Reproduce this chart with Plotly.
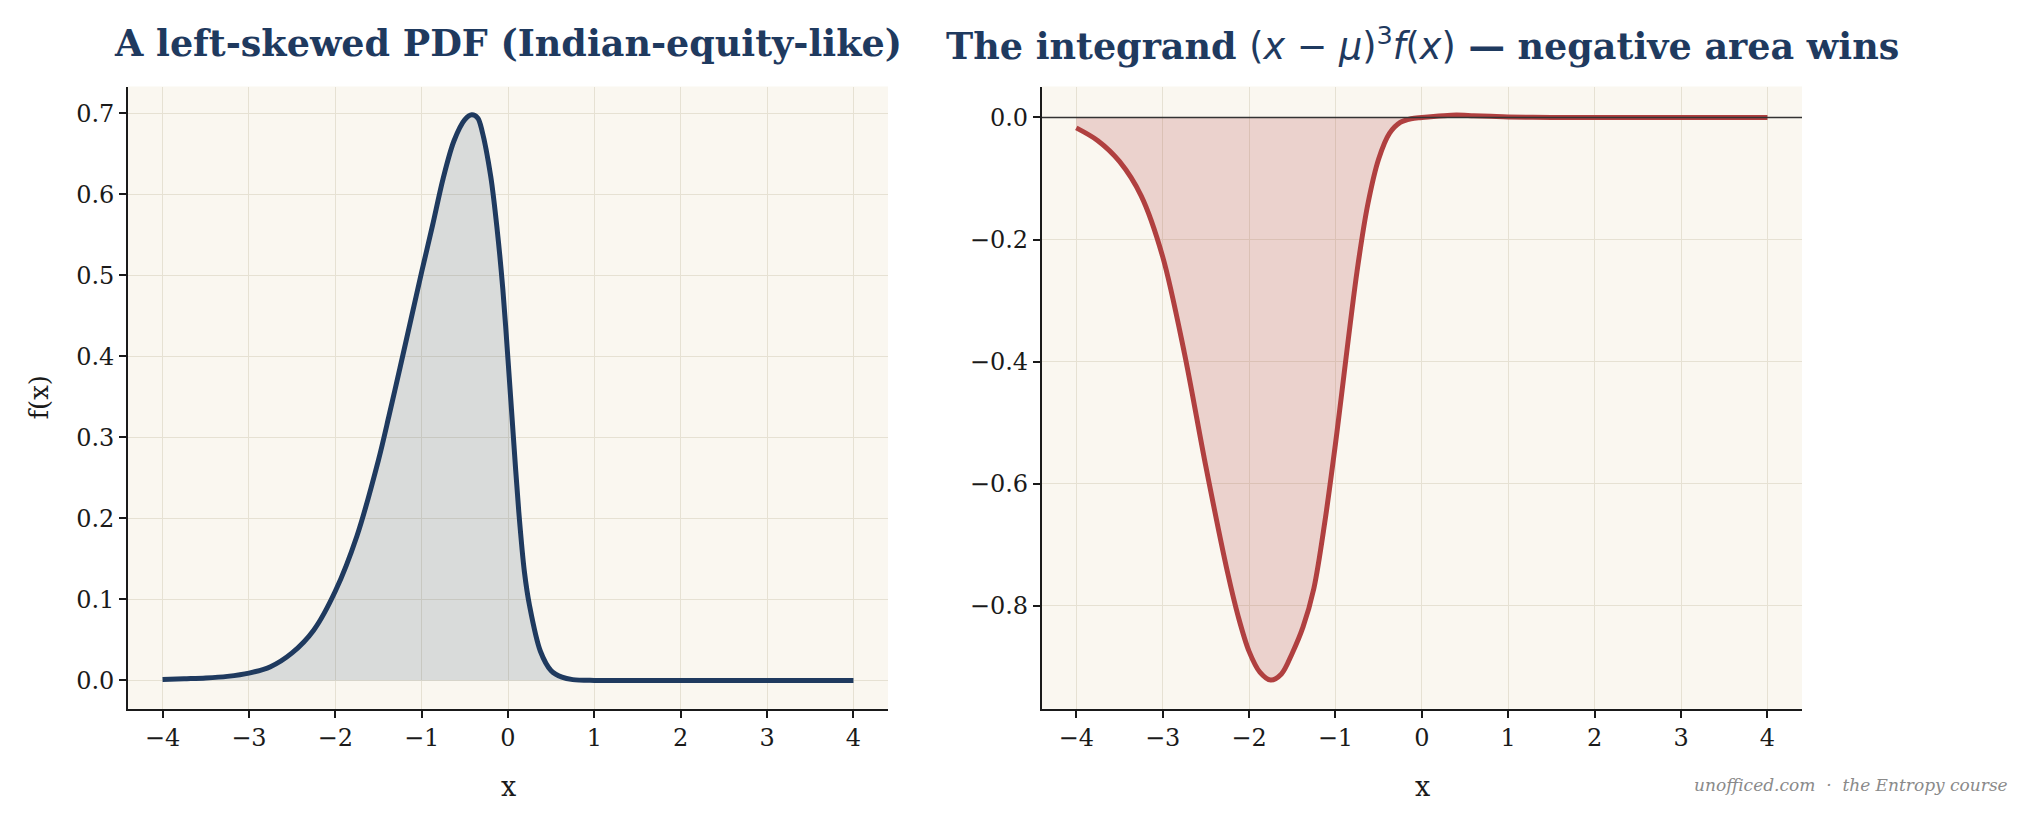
import plotly.graph_objects as go

# ---- data ----
x_pdf = [-4.0, -3.75, -3.5, -3.25, -3.0, -2.75, -2.5, -2.25, -2.0, -1.75, -1.5, -1.375,
         -1.25, -1.125, -1.0, -0.875, -0.75, -0.625, -0.5, -0.42, -0.35, -0.3, -0.2, -0.125,
         -0.06, 0.0, 0.06, 0.125, 0.19, 0.25, 0.375, 0.5, 0.625, 0.75, 1.0, 1.5, 2.0, 2.5,
         3.0, 3.5, 4.0]
f_pdf = [0.001, 0.002, 0.003, 0.005, 0.009, 0.017, 0.034, 0.062, 0.110, 0.178, 0.272, 0.328,
         0.386, 0.445, 0.504, 0.561, 0.620, 0.666, 0.692, 0.698, 0.694, 0.678, 0.622, 0.556,
         0.483, 0.396, 0.304, 0.208, 0.134, 0.092, 0.036, 0.012, 0.004, 0.001, 0.0, 0.0, 0.0,
         0.0, 0.0, 0.0, 0.0]

x_int = [-4.0, -3.75, -3.5, -3.25, -3.0, -2.75, -2.5, -2.25, -2.125, -2.0, -1.875, -1.75,
         -1.625, -1.5, -1.375, -1.25, -1.125, -1.0, -0.75, -0.625, -0.5, -0.375, -0.25,
         -0.125, 0.0, 0.25, 0.4, 0.6, 0.8, 1.0, 1.5, 2.0, 2.5, 3.0, 3.5, 4.0]
g_int = [-0.017, -0.038, -0.072, -0.128, -0.228, -0.385, -0.572, -0.745, -0.818, -0.875,
         -0.909, -0.922, -0.912, -0.878, -0.835, -0.772, -0.665, -0.535, -0.252, -0.142,
         -0.068, -0.026, -0.008, -0.002, 0.0, 0.003, 0.004, 0.003, 0.002, 0.001, 0.0, 0.0,
         0.0, 0.0, 0.0, 0.0]

x_ticks = [-4, -3, -2, -1, 0, 1, 2, 3, 4]
y_ticks_left = [0.0, 0.1, 0.2, 0.3, 0.4, 0.5, 0.6, 0.7]
y_ticks_right = [0.0, -0.2, -0.4, -0.6, -0.8]

title_left = "A left-skewed PDF (Indian-equity-like)"
title_right = ("The integrand <span style=\"font-family:'DejaVu Sans';font-weight:normal\">(<i>x</i> − <i>μ</i>)"
               "<sup>3</sup><i>f</i>(<i>x</i>)</span> — negative area wins")

NAVY = "#1f3a5f"
RED = "#b04040"
BG = "#faf7f0"
GRID = "#e6e1d3"
SERIF = "'DejaVu Serif', Georgia, serif"

W, H = 2024, 824
def px_x(p): return p / W
def px_y(p): return 1 - p / H

fig = go.Figure()
fig.add_trace(go.Scatter(x=x_pdf, y=f_pdf, mode="lines", fill="tozeroy",
                         fillcolor="rgba(31,58,95,0.15)",
                         line=dict(color=NAVY, width=5, shape="spline", smoothing=0.9),
                         xaxis="x", yaxis="y", showlegend=False, hoverinfo="skip"))
fig.add_trace(go.Scatter(x=x_int, y=g_int, mode="lines", fill="tozeroy",
                         fillcolor="rgba(176,64,64,0.2)",
                         line=dict(color=RED, width=5, shape="spline", smoothing=0.9),
                         xaxis="x2", yaxis="y2", showlegend=False, hoverinfo="skip"))

axis_common = dict(showline=True, linecolor="#1a1a1a", linewidth=1.6, mirror=False,
                   ticks="outside", ticklen=7, tickwidth=1.5, tickcolor="#1a1a1a",
                   showgrid=True, gridcolor=GRID, gridwidth=1, zeroline=False,
                   tickfont=dict(family=SERIF, size=24, color="#1a1a1a"))

yd = [px_y(708.7), px_y(86.5)]
fig.update_layout(
    width=W, height=H, margin=dict(l=0, r=0, t=0, b=0),
    paper_bgcolor="white", plot_bgcolor=BG,
    xaxis=dict(domain=[px_x(128), px_x(888)], range=[-4.4, 4.4], tickvals=x_ticks,
               anchor="y", **axis_common),
    yaxis=dict(domain=yd, range=[-0.0349, 0.733], tickvals=y_ticks_left,
               tickformat=".1f", anchor="x", **axis_common),
    xaxis2=dict(domain=[px_x(1041.7), px_x(1802)], range=[-4.4, 4.4], tickvals=x_ticks,
                anchor="y2", **axis_common),
    yaxis2=dict(domain=yd, range=[-0.969, 0.0508], tickvals=y_ticks_right,
                tickformat=".1f", anchor="x2", **axis_common),
)

fig.add_shape(type="line", xref="x2 domain", x0=0, x1=1, yref="y2", y0=0, y1=0,
              line=dict(color="#333333", width=1.3), layer="above")

ann = []
ann.append(dict(text=f"<b>{title_left}</b>", x=px_x(508), y=px_y(44), xref="paper", yref="paper",
                showarrow=False, xanchor="center", yanchor="middle",
                font=dict(family=SERIF, size=36.5, color=NAVY)))
ann.append(dict(text=f"<b>{title_right}</b>", x=px_x(1422), y=px_y(44), xref="paper", yref="paper",
                showarrow=False, xanchor="center", yanchor="middle",
                font=dict(family=SERIF, size=36.5, color=NAVY)))
ann.append(dict(text="x", x=px_x(508), y=px_y(786), xref="paper", yref="paper",
                showarrow=False, xanchor="center", yanchor="middle",
                font=dict(family=SERIF, size=27, color="#1a1a1a")))
ann.append(dict(text="x", x=px_x(1422), y=px_y(786), xref="paper", yref="paper",
                showarrow=False, xanchor="center", yanchor="middle",
                font=dict(family=SERIF, size=27, color="#1a1a1a")))
ann.append(dict(text="f(x)", x=px_x(39), y=px_y(397.6), xref="paper", yref="paper",
                showarrow=False, xanchor="center", yanchor="middle", textangle=-90,
                font=dict(family=SERIF, size=26, color="#1a1a1a")))
ann.append(dict(text="<i>unofficed.com  ·  the Entropy course</i>", x=px_x(2010), y=px_y(785),
                xref="paper", yref="paper", showarrow=False, xanchor="right", yanchor="middle",
                font=dict(family=SERIF, size=17, color="#8a8a8a")))
fig.update_layout(annotations=ann)

fig.write_html("out.html")
